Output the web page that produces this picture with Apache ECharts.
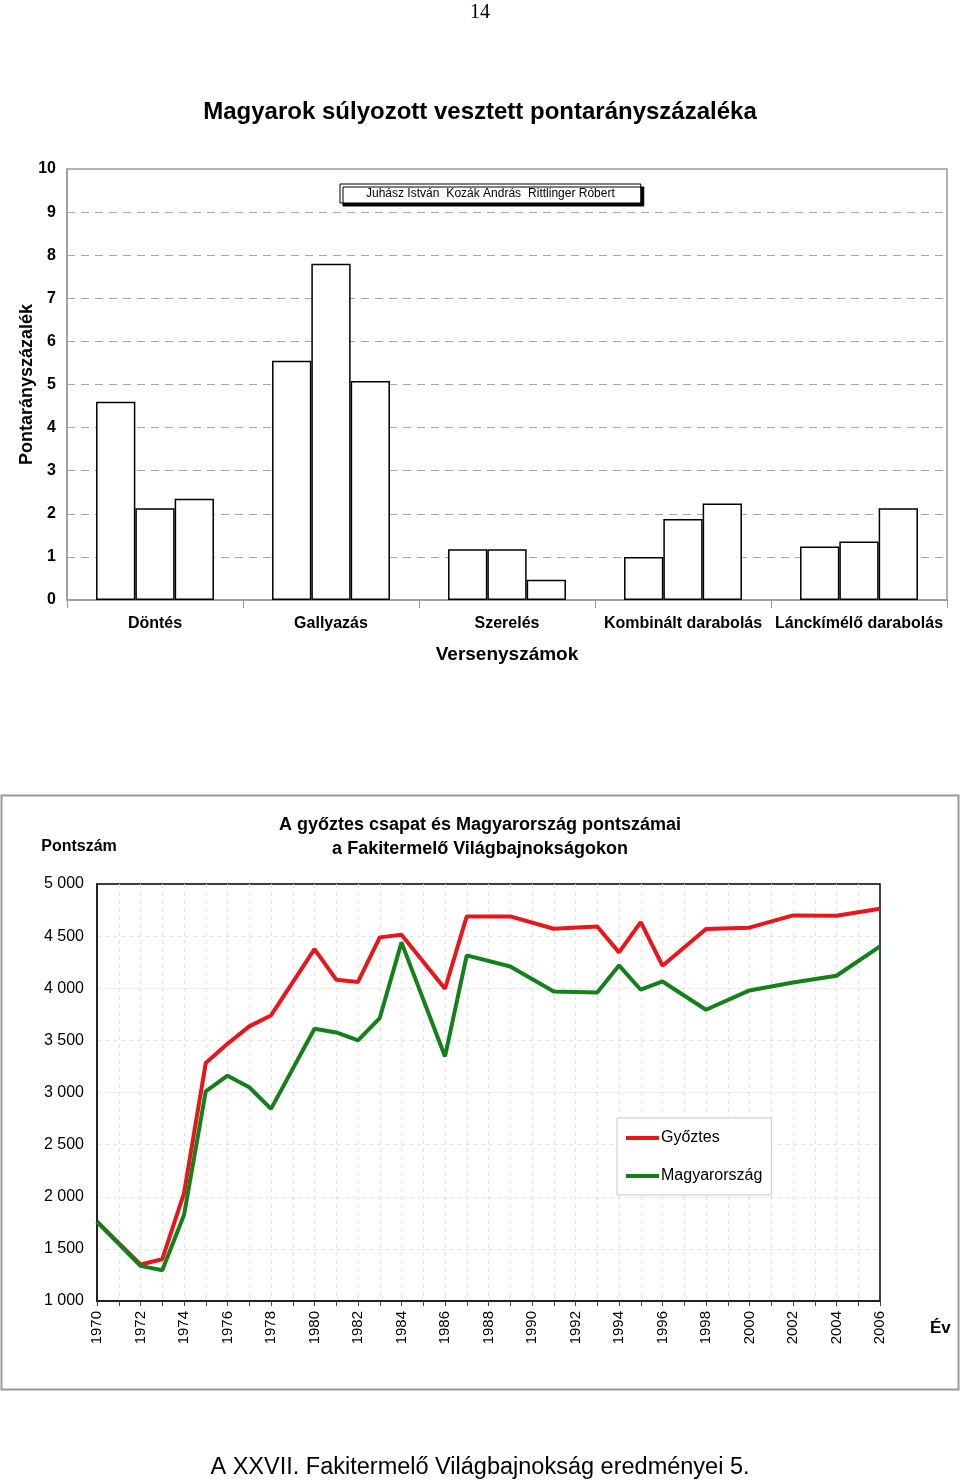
<!DOCTYPE html>
<html><head><meta charset="utf-8">
<script src="https://cdn.jsdelivr.net/npm/echarts@6/dist/echarts.min.js"></script>
<style>html,body{margin:0;padding:0;background:#fff}#c{width:960px;height:1481px}</style>
</head><body><div id="c"></div>
<script>
// ---- Bar chart data ----
const events = ['Döntés', 'Gallyazás', 'Szerelés', 'Kombinált darabolás', 'Lánckímélő darabolás'];
const juhasz = [4.60, 5.55, 1.18, 1.00, 1.24];
const kozak = [2.13, 7.80, 1.18, 1.88, 1.36];
const rittlinger = [2.35, 5.08, 0.47, 2.24, 2.13];
const competitorNames = ['Juhász István', 'Kozák András', 'Rittlinger Róbert'];

// ---- Line chart data ----
const years = [1970, 1972, 1973, 1974, 1975, 1976, 1977, 1978, 1980, 1981, 1982, 1983, 1984, 1986, 1987, 1989, 1991, 1993, 1994, 1995, 1996, 1998, 2000, 2002, 2004, 2006];
const winner = [1760, 1350, 1401, 2033, 3282, 3467, 3634, 3739, 4376, 4082, 4060, 4488, 4513, 3995, 4689, 4689, 4571, 4593, 4344, 4635, 4216, 4568, 4581, 4699, 4696, 4763];
const hungary = [1760, 1337, 1295, 1824, 3010, 3161, 3050, 2843, 3611, 3576, 3499, 3714, 4440, 3346, 4315, 4209, 3969, 3960, 4219, 3986, 4065, 3794, 3979, 4056, 4120, 4401];

const F = 'Liberation Sans, Arial, sans-serif';
const pair = arr => years.map((y, i) => [y, arr[i]]);

const chart = echarts.init(document.getElementById('c'), null, {renderer: 'canvas'});
chart.setOption({
  animation: false,
  backgroundColor: '#fff',
  textStyle: {fontFamily: F, color: '#000'},
  title: [
    {text: '14', left: 'center', top: -2, textStyle: {fontFamily: 'Liberation Serif, Times New Roman, serif', fontSize: 20, fontWeight: 'normal', color: '#000'}},
    {text: 'Magyarok súlyozott vesztett pontarányszázaléka', left: 'center', top: 95, textStyle: {fontFamily: F, fontSize: 24, fontWeight: 'bold', color: '#000'}},
    {text: 'A győztes csapat és Magyarország pontszámai\na Fakitermelő Világbajnokságokon', left: 'center', top: 808, textStyle: {fontFamily: F, fontSize: 18, fontWeight: 'bold', color: '#000', lineHeight: 24}},
    {text: 'A XXVII. Fakitermelő Világbajnokság eredményei 5.', left: 'center', top: 1451, textStyle: {fontFamily: F, fontSize: 23.5, fontWeight: 'normal', color: '#000'}}
  ],
  graphic: [
    {type: 'rect', shape: {x: 1.5, y: 795.5, width: 957, height: 594}, style: {fill: 'none', stroke: '#9a9a9a', lineWidth: 2}, z: -1}
  ],
  legend: [
    {data: competitorNames, left: 340, top: 184, orient: 'horizontal',
     padding: [4, 26, 3, 19], itemWidth: 2, itemHeight: 12, itemGap: 0,
     itemStyle: {color: '#fff', borderWidth: 0},
     backgroundColor: '#fff', borderColor: '#000', borderWidth: 1,
     shadowColor: '#000', shadowOffsetX: 3, shadowOffsetY: 3, shadowBlur: 0,
     textStyle: {fontFamily: F, fontSize: 12, color: '#000'}},
    {data: ['Győztes', 'Magyarország'], left: 617, top: 1118, orient: 'vertical',
     padding: [12, 9, 11, 9], itemWidth: 33, itemHeight: 4, itemGap: 22, icon: 'rect',
     backgroundColor: '#fff', borderColor: '#c8c8c8', borderWidth: 1,
     textStyle: {fontFamily: F, fontSize: 16, color: '#000', padding: [0, 0, 0, -3]}}
  ],
  grid: [
    {left: 67, top: 169, width: 880, height: 431, show: true, borderColor: '#9a9a9a', borderWidth: 1.5, backgroundColor: 'transparent'},
    {left: 97, top: 884, width: 783, height: 417, show: true, borderColor: '#000', borderWidth: 1.5, backgroundColor: 'transparent'}
  ],
  xAxis: [
    {gridIndex: 0, type: 'category', data: events,
     axisLine: {lineStyle: {color: '#9a9a9a', width: 1.5}},
     axisTick: {show: true, length: 8, lineStyle: {color: '#9a9a9a'}},
     axisLabel: {fontFamily: F, fontSize: 16, fontWeight: 'bold', color: '#000', margin: 16, interval: 0},
     name: 'Versenyszámok', nameLocation: 'middle', nameGap: 45,
     nameTextStyle: {fontFamily: F, fontSize: 19, fontWeight: 'bold', color: '#000'}},
    {gridIndex: 1, type: 'value', min: 1970, max: 2006, interval: 1,
     axisLine: {lineStyle: {color: '#222', width: 2}},
     axisTick: {show: true, length: 5, lineStyle: {color: '#444'}},
     axisLabel: {fontFamily: F, fontSize: 15, color: '#000', rotate: 90, margin: 10,
       formatter: v => (v % 2 === 0 ? String(v) : '')},
     splitLine: {show: true, showMinLine: false, showMaxLine: false, lineStyle: {color: '#e4e4e4', type: [4, 4], width: 1}},
     name: 'Év', nameLocation: 'end', nameGap: 50, nameMoveOverlap: false,
     nameTextStyle: {fontFamily: F, fontSize: 17, fontWeight: 'bold', color: '#000', verticalAlign: 'top', padding: [19, 0, 0, 0]}}
  ],
  yAxis: [
    {gridIndex: 0, type: 'value', min: 0, max: 10, interval: 1,
     axisLine: {show: true, lineStyle: {color: '#9a9a9a', width: 1.5}},
     axisTick: {show: false},
     axisLabel: {fontFamily: F, fontSize: 16, fontWeight: 'bold', color: '#000', margin: 11},
     splitLine: {show: true, showMinLine: false, showMaxLine: false, lineStyle: {color: '#a8a8a8', type: [8, 6], width: 1}},
     name: 'Pontarányszázalék', nameLocation: 'middle', nameGap: 31, nameMoveOverlap: false,
     nameTextStyle: {fontFamily: F, fontSize: 18, fontWeight: 'bold', color: '#000'}},
    {gridIndex: 1, type: 'value', min: 1000, max: 5000, interval: 500,
     axisLine: {show: true, lineStyle: {color: '#222', width: 2}},
     axisTick: {show: false},
     axisLabel: {fontFamily: F, fontSize: 16, color: '#000', margin: 13,
       formatter: v => String(v).replace(/\B(?=(\d{3})+(?!\d))/g, ' ')},
     splitLine: {show: true, showMinLine: false, showMaxLine: false, lineStyle: {color: '#e4e4e4', type: [4, 4], width: 1}},
     name: 'Pontszám', nameLocation: 'end', nameGap: 29, nameMoveOverlap: false,
     nameTextStyle: {fontFamily: F, fontSize: 16, fontWeight: 'bold', color: '#000', align: 'center', padding: [0, 36, 0, 0]}}
  ],
  series: [
    {name: competitorNames[0], type: 'bar', xAxisIndex: 0, yAxisIndex: 0, data: juhasz, barGap: '0%', barCategoryGap: '33%',
     itemStyle: {color: '#fff', borderColor: '#000', borderWidth: 1.5}},
    {name: competitorNames[1], type: 'bar', xAxisIndex: 0, yAxisIndex: 0, data: kozak, barGap: '0%', barCategoryGap: '33%',
     itemStyle: {color: '#fff', borderColor: '#000', borderWidth: 1.5}},
    {name: competitorNames[2], type: 'bar', xAxisIndex: 0, yAxisIndex: 0, data: rittlinger, barGap: '0%', barCategoryGap: '33%',
     itemStyle: {color: '#fff', borderColor: '#000', borderWidth: 1.5}},
    {name: 'Győztes', type: 'line', xAxisIndex: 1, yAxisIndex: 1, data: pair(winner), showSymbol: false,
     lineStyle: {color: '#e8161b', width: 4}, itemStyle: {color: '#e8161b'}},
    {name: 'Magyarország', type: 'line', xAxisIndex: 1, yAxisIndex: 1, data: pair(hungary), showSymbol: false,
     lineStyle: {color: '#138019', width: 4}, itemStyle: {color: '#138019'}}
  ]
});
</script>
</body></html>
